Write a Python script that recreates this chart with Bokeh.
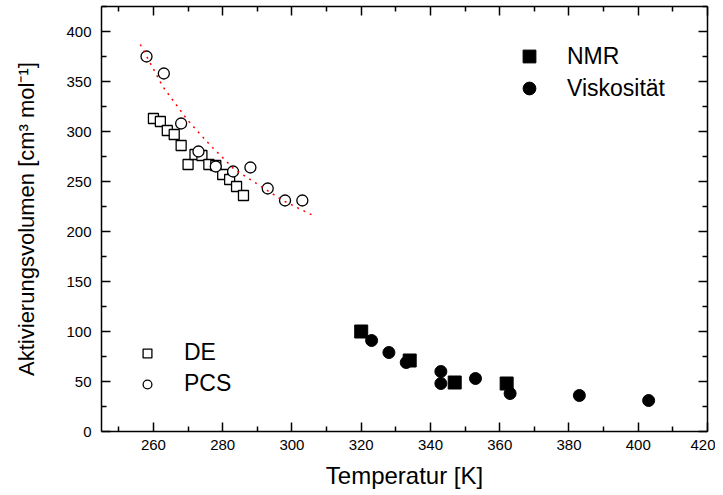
from bokeh.plotting import figure
from bokeh.models import (LinearAxis, FixedTicker, Range1d, Legend, LegendItem,
                          CustomJSTickFormatter)
from bokeh.embed import file_html
from bokeh.resources import INLINE

# DE (dielectric) data
de_T = [260, 262, 264, 266, 268, 270, 272, 274, 276, 278, 280, 282, 284, 286]
de_V = [313, 310, 301, 297, 286, 267, 277, 276, 267, 266, 257, 252, 245, 236]
# PCS data
pcs_T = [258, 263, 268, 273, 278, 283, 288, 293, 298, 303]
pcs_V = [375, 358, 308, 280, 265, 260, 264, 243, 231, 231]
# NMR data
nmr_T = [320, 334, 347, 362]
nmr_V = [100, 71, 49, 48]
# Viscosity data
visc_T = [323, 328, 333, 343, 343, 353, 363, 383, 403]
visc_V = [91, 79, 69, 60, 48, 53, 38, 36, 31]
# dotted fit curve
fit_T = [256.2, 262.7, 269.7, 276.2, 283.4, 290.2, 297.4, 306.7]
fit_V = [387, 345, 312, 287, 262, 247, 231, 215]

x_major = [260, 280, 300, 320, 340, 360, 380, 400, 420]
x_minor = [250, 270, 290, 310, 330, 350, 370, 390, 410]
y_major = [0, 50, 100, 150, 200, 250, 300, 350, 400]
y_minor = [25, 75, 125, 175, 225, 275, 325, 375, 425]

FONT = "Liberation Sans"

p = figure(width=715, height=492, x_range=Range1d(245, 420), y_range=Range1d(0, 425),
           output_backend="svg", toolbar_location=None,
           min_border_left=101, min_border_top=6, min_border_right=8, min_border_bottom=61)
p.outline_line_color = None
p.xgrid.visible = False
p.ygrid.visible = False
p.background_fill_color = "white"
p.border_fill_color = "white"

def style_axis(ax, labels=True):
    ax.axis_line_width = 1.5
    ax.axis_line_color = "black"
    ax.major_tick_in = 9
    ax.major_tick_out = 0
    ax.minor_tick_in = 5
    ax.minor_tick_out = 0
    ax.major_tick_line_width = 1.5
    ax.minor_tick_line_width = 1.5
    ax.major_tick_line_color = "black"
    ax.minor_tick_line_color = "black"
    if labels:
        ax.major_label_text_font = FONT
        ax.major_label_text_font_size = "15px"
        ax.major_label_text_color = "black"
        ax.axis_label_text_font = FONT
        ax.axis_label_text_font_style = "normal"
        ax.axis_label_text_color = "black"
    else:
        ax.formatter = CustomJSTickFormatter(code="return ''")
        ax.major_label_standoff = 0

xt = FixedTicker(ticks=x_major, minor_ticks=x_minor)
yt = FixedTicker(ticks=y_major, minor_ticks=y_minor)

xa = p.xaxis[0]
xa.ticker = xt
xa.axis_label = "Temperatur [K]"
style_axis(xa)
xa.axis_label_text_font_size = "24px"
xa.major_label_standoff = 8
xa.axis_label_standoff = 9

ya = p.yaxis[0]
ya.ticker = yt
ya.axis_label = "Aktivierungsvolumen [cm³ mol⁻¹]"
style_axis(ya)
ya.axis_label_text_font_size = "22px"
ya.major_label_standoff = 10
ya.axis_label_standoff = 24

top = LinearAxis(ticker=FixedTicker(ticks=x_major, minor_ticks=x_minor))
style_axis(top, labels=False)
p.add_layout(top, "above")
right = LinearAxis(ticker=FixedTicker(ticks=y_major, minor_ticks=y_minor))
style_axis(right, labels=False)
p.add_layout(right, "right")

r_de = p.scatter(de_T, de_V, marker="square", size=10, fill_color="white",
                 line_color="black", line_width=1.3)
r_pcs = p.scatter(pcs_T, pcs_V, marker="circle", size=11, fill_color="white",
                  line_color="black", line_width=1.3)
p.line(fit_T, fit_V, line_color="red", line_width=1.5, line_dash="2 5")
r_nmr = p.scatter(nmr_T, nmr_V, marker="square", size=13, fill_color="black",
                  line_color="black")
r_visc = p.scatter(visc_T, visc_V, marker="circle", size=12, fill_color="black",
                   line_color="black")

def make_legend(items, loc, g, standoff, spacing):
    return Legend(items=items, location=loc, glyph_width=g, glyph_height=g,
                  label_height=g, spacing=spacing, padding=0, margin=0,
                  label_standoff=standoff, border_line_color=None,
                  background_fill_alpha=0, label_text_font=FONT,
                  label_text_font_size="23px", label_text_color="black")

leg1 = make_legend([LegendItem(label="NMR", renderers=[r_nmr]),
                    LegendItem(label="Viskosität", renderers=[r_visc])],
                   (412, 327), 32, 22, 0)
leg2 = make_legend([LegendItem(label="DE", renderers=[r_de]),
                    LegendItem(label="PCS", renderers=[r_pcs])],
                   (35, 34), 22, 26, 4)
p.add_layout(leg1)
p.add_layout(leg2)

open("out.html", "w").write(file_html(p, INLINE))
